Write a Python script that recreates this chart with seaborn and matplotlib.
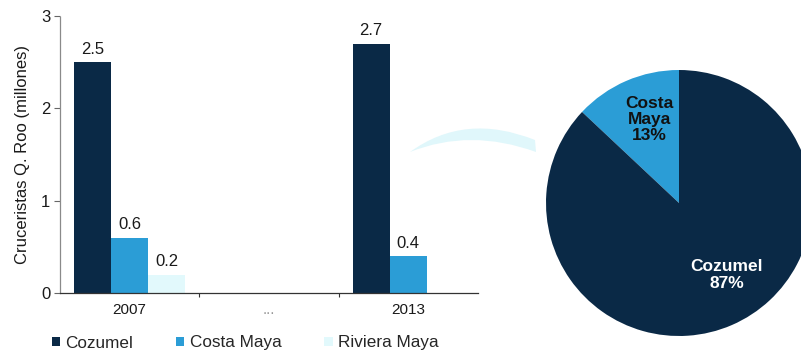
import matplotlib
matplotlib.use("Agg")
import matplotlib.pyplot as plt
import seaborn as sns
import pandas as pd
from matplotlib.path import Path
from matplotlib.patches import PathPatch

# Cruise passengers in Quintana Roo (millions), by port
years = ["2007", "...", "2013"]
ports = ["Cozumel", "Costa Maya", "Riviera Maya"]
cozumel = [2.5, 0.0, 2.7]
costa_maya = [0.6, 0.0, 0.4]
riviera_maya = [0.2, 0.0, 0.0]

# 2013 share by port (pie)
pie_labels = ["Costa\nMaya\n13%", "Cozumel\n87%"]
pie_shares = [13, 87]

colors = {"Cozumel": "#0a2946", "Costa Maya": "#2b9dd6", "Riviera Maya": "#e2f9fc"}

sns.set_theme(style="white")
plt.rcParams["font.family"] = ["Liberation Sans", "DejaVu Sans"]

W, H = 801, 356
fig = plt.figure(figsize=(W / 100, H / 100), dpi=100)


def fx(px):
    return px / W


def fy(py):
    return 1 - py / H


rows = []
for series, vals in zip(ports, [cozumel, costa_maya, riviera_maya]):
    for yr, v in zip(years, vals):
        rows.append({"year": yr, "port": series, "value": v})
df = pd.DataFrame(rows)

ax = fig.add_axes([fx(60), fy(293), fx(478) - fx(60), fy(16) - fy(293)])
sns.barplot(data=df, x="year", y="value", hue="port", order=years,
            hue_order=ports, palette=colors, saturation=1, width=0.8,
            linewidth=0, errorbar=None, ax=ax, legend=True)

for cont, vals in zip(ax.containers, [cozumel, costa_maya, riviera_maya]):
    ax.bar_label(cont, labels=[f"{v:.1f}" if v > 0 else "" for v in vals],
                 padding=4, fontsize=12, color="#1a1a1a")

ax.set_ylim(0, 3)
ax.set_xlim(-0.5, 2.5)
ax.set_yticks([0, 1, 2, 3])
ax.set_yticklabels(["0", "1", "2", "3"], fontsize=12, color="#1a1a1a")
ax.set_xticks([0, 1, 2])
ax.set_xticklabels(years, fontsize=11, color="#1a1a1a")
ax.get_xticklabels()[1].set_color("#999999")
ax.set_xticks([0.5, 1.5], minor=True)
ax.tick_params(axis="x", which="major", length=0, pad=7)
ax.tick_params(axis="x", which="minor", length=3, width=0.8, color="#333333",
               bottom=True, direction="out")
ax.tick_params(axis="y", length=4, width=0.8, color="#666666", left=True,
               direction="out", pad=3)
ax.set_xlabel("")
ax.set_ylabel("Cruceristas Q. Roo (millones)", fontsize=12,
              color="#1a1a1a", labelpad=8)
for s in ["top", "right"]:
    ax.spines[s].set_visible(False)
ax.spines["left"].set_color("#8a8a8a")
ax.spines["left"].set_linestyle((0, (1, 1)))
ax.spines["left"].set_linewidth(0.9)
ax.spines["bottom"].set_color("#333333")
ax.spines["bottom"].set_linewidth(0.9)

handles, labels = ax.get_legend_handles_labels()
ax.get_legend().remove()
fig.legend(handles, labels, loc="center", bbox_to_anchor=(fx(245), fy(343)),
           ncol=3, frameon=False, fontsize=12.3, handlelength=0.5,
           handleheight=0.5, handletextpad=0.3, columnspacing=2.5,
           borderpad=0)

# Pie for 2013
r = 133
cx, cy = 679, 203
pax = fig.add_axes([fx(cx - r), fy(cy + r), fx(2 * r), fy(0) - fy(2 * r)])
pax.pie(pie_shares, colors=[colors["Costa Maya"], colors["Cozumel"]],
        startangle=90, counterclock=True, radius=1,
        wedgeprops=dict(linewidth=0))
pax.set_xlim(-1, 1)
pax.set_ylim(-1, 1)
pax.set_aspect("auto")
pax.axis("off")
pax.text(-0.22, 0.63, pie_labels[0], ha="center", va="center",
         fontsize=12.5, fontweight="bold", color="#111111", linespacing=1.1)
pax.text(0.36, -0.54, pie_labels[1], ha="center", va="center",
         fontsize=12.5, fontweight="bold", color="white", linespacing=1.2)

# Connector swoosh from bars to pie
verts = [
    (fx(410), fy(152)),
    (fx(465), fy(112)), (fx(535), fy(140)),
    (fx(536), fy(152)),
    (fx(470), fy(128)), (fx(410), fy(152)),
    (fx(410), fy(152)),
]
codes = [Path.MOVETO, Path.CURVE3, Path.CURVE3, Path.LINETO,
         Path.CURVE3, Path.CURVE3, Path.CLOSEPOLY]
fig.patches.append(PathPatch(Path(verts, codes), transform=fig.transFigure,
                             facecolor="#e0f7fb", edgecolor="none", zorder=0))

fig.savefig("out.png", dpi=100)
